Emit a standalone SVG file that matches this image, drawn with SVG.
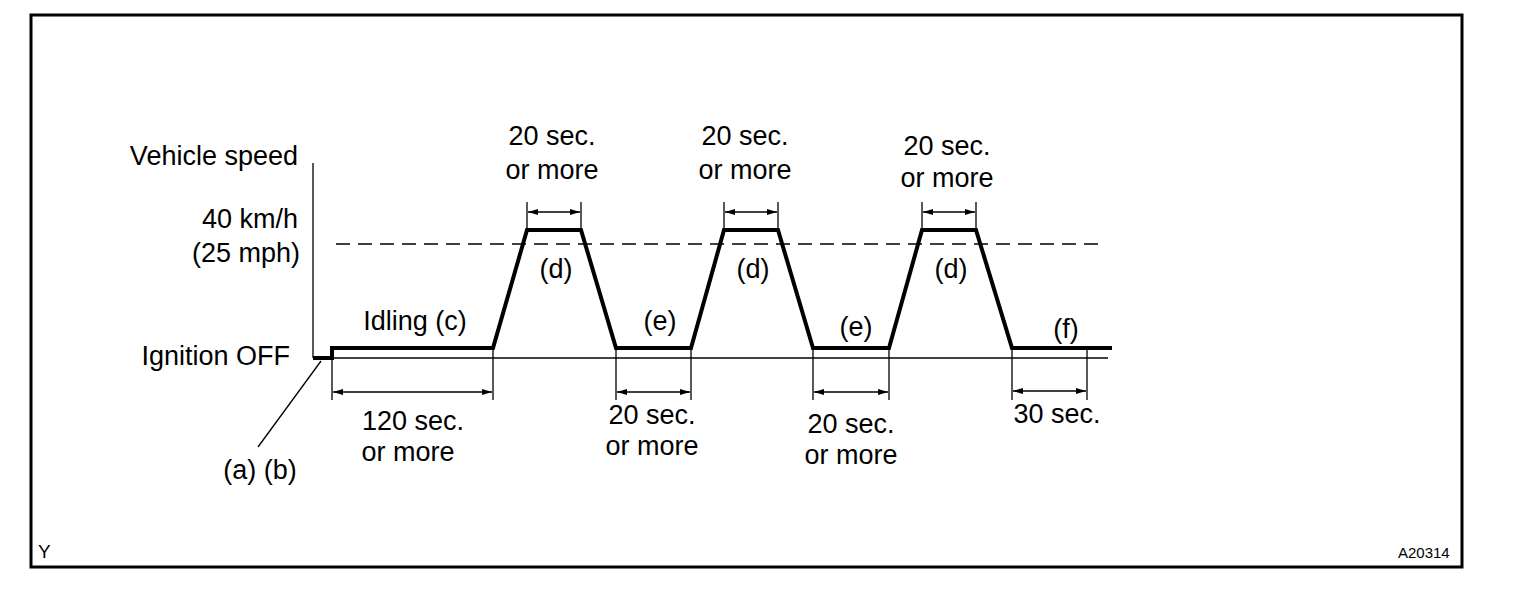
<svg xmlns="http://www.w3.org/2000/svg" width="1520" height="590" viewBox="0 0 1520 590">
<defs>
<marker id="ah" viewBox="0 0 10 6" refX="10" refY="3" markerWidth="10" markerHeight="6" markerUnits="userSpaceOnUse" orient="auto-start-reverse"><path d="M0,0 L10,3 L0,6 Z" fill="#000"/></marker>
<style>
text{font-family:"Liberation Sans",Arial,sans-serif;font-size:27px;fill:#000}
.t{stroke:#000;stroke-width:1.3;fill:none}
.d{stroke:#000;stroke-width:1.3;fill:none;marker-start:url(#ah);marker-end:url(#ah)}
.c{text-anchor:middle}
.e{text-anchor:end}
</style>
</defs>
<rect width="1520" height="590" fill="#fff"/>
<rect x="31" y="15" width="1431" height="552" fill="none" stroke="#000" stroke-width="3"/>
<g id="axes">
<line class="t" x1="313" y1="163" x2="313" y2="358"/>
<line class="t" x1="313" y1="358" x2="1108" y2="358"/>
<line x1="336" y1="244" x2="1102" y2="244" stroke="#000" stroke-width="1.3" stroke-dasharray="14,8"/>
</g>
<g id="profile">
<polyline points="313,358 332,358 332,348 493,348 527,230 581,230 616,348 691,348 724,230 778,230 813,348 889,348 922,230 976,230 1012,348 1112,348" fill="none" stroke="#000" stroke-width="4"/>
</g>
<g id="connectors">
<line class="t" x1="321" y1="361" x2="258" y2="447"/>
<line class="t" x1="332" y1="358" x2="332" y2="400"/>
<line class="t" x1="493" y1="348" x2="493" y2="400"/>
<line class="d" x1="333" y1="392" x2="492" y2="392"/>
<line class="t" x1="616" y1="348" x2="616" y2="400"/>
<line class="t" x1="691" y1="348" x2="691" y2="400"/>
<line class="d" x1="617" y1="392" x2="690" y2="392"/>
<line class="t" x1="813" y1="348" x2="813" y2="400"/>
<line class="t" x1="889" y1="348" x2="889" y2="400"/>
<line class="d" x1="814" y1="392" x2="888" y2="392"/>
<line class="t" x1="1012" y1="348" x2="1012" y2="400"/>
<line class="t" x1="1087" y1="348" x2="1087" y2="400"/>
<line class="d" x1="1013" y1="391" x2="1086" y2="391"/>
<line class="t" x1="527" y1="202" x2="527" y2="230"/>
<line class="t" x1="581" y1="202" x2="581" y2="230"/>
<line class="d" x1="528" y1="212" x2="580" y2="212"/>
<line class="t" x1="724" y1="202" x2="724" y2="230"/>
<line class="t" x1="778" y1="202" x2="778" y2="230"/>
<line class="d" x1="725" y1="212" x2="777" y2="212"/>
<line class="t" x1="922" y1="202" x2="922" y2="230"/>
<line class="t" x1="976" y1="202" x2="976" y2="230"/>
<line class="d" x1="923" y1="212" x2="975" y2="212"/>
</g>
<g id="labels">
<text class="e" x="298" y="165">Vehicle speed</text>
<text class="e" x="298" y="228">40 km/h</text>
<text class="e" x="300" y="262">(25 mph)</text>
<text class="e" x="290" y="365">Ignition OFF</text>
<text class="c" x="415" y="330">Idling (c)</text>
<text class="c" x="556" y="278">(d)</text>
<text class="c" x="753" y="278">(d)</text>
<text class="c" x="951" y="278">(d)</text>
<text class="c" x="660" y="330">(e)</text>
<text class="c" x="856" y="336">(e)</text>
<text class="c" x="1066" y="338">(f)</text>
<text class="c" x="552" y="145">20 sec.</text>
<text class="c" x="552" y="179">or more</text>
<text class="c" x="745" y="145">20 sec.</text>
<text class="c" x="745" y="179">or more</text>
<text class="c" x="947" y="155">20 sec.</text>
<text class="c" x="947" y="187">or more</text>
<text class="c" x="413" y="430">120 sec.</text>
<text class="c" x="408" y="461">or more</text>
<text class="c" x="652" y="424">20 sec.</text>
<text class="c" x="652" y="455">or more</text>
<text class="c" x="851" y="433">20 sec.</text>
<text class="c" x="851" y="464">or more</text>
<text class="c" x="1057" y="423">30 sec.</text>
<text class="c" x="260" y="479">(a) (b)</text>
<text x="38" y="558" style="font-size:19px">Y</text>
<text x="1398" y="558" style="font-size:15px">A20314</text>
</g>
</svg>
